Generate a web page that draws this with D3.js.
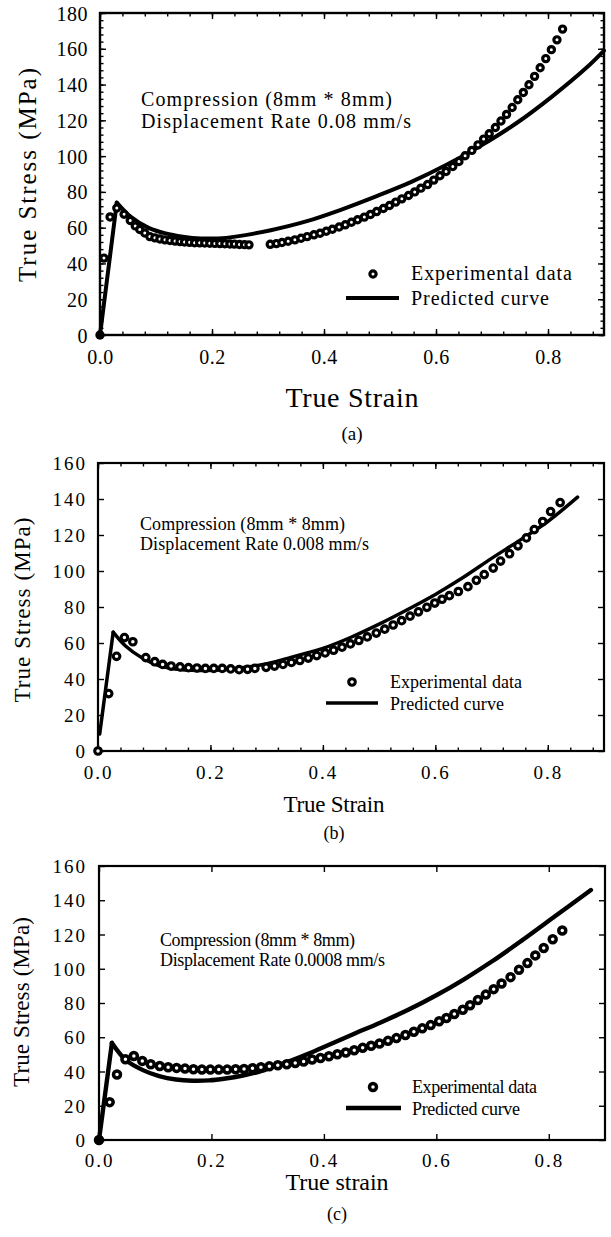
<!DOCTYPE html>
<html>
<head>
<meta charset="utf-8">
<script src="https://cdn.jsdelivr.net/npm/d3@7"></script>
<style>
body { margin: 0; background: #fff; }
svg { display: block; font-family: "Liberation Serif", "Times New Roman", serif; }
</style>
</head>
<body>
<div class="container"></div>
<script>
const WIDTH = 611;
const HEIGHT = 1237;

// (a) displacement rate 0.08 mm/s
var expStrainA = [0, 0.007, 0.018, 0.030, 0.043, 0.054, 0.063, 0.071, 0.080, 0.089, 0.098, 0.107, 0.116, 0.125, 0.134, 0.143, 0.151, 0.160, 0.169, 0.178, 0.187, 0.196, 0.205, 0.214, 0.223, 0.232, 0.240, 0.249, 0.258, 0.266,
    0.304, 0.315, 0.325, 0.336, 0.348, 0.359, 0.370, 0.382, 0.393, 0.404, 0.415, 0.427, 0.438, 0.449, 0.460, 0.472, 0.483, 0.494, 0.506, 0.517, 0.528, 0.539, 0.551, 0.562, 0.573, 0.585, 0.596, 0.607, 0.618, 0.630,
    0.641, 0.652, 0.664, 0.675, 0.685, 0.695, 0.706, 0.716, 0.726, 0.736, 0.746, 0.756, 0.766, 0.776, 0.786, 0.796, 0.806, 0.816, 0.826];
var expStressA = [0, 43, 66, 71, 67.5, 64, 61, 59, 57, 55, 54.3, 53.7, 53.2, 52.8, 52.5, 52.2, 52, 51.8, 51.6, 51.5, 51.4, 51.3, 51.2, 51.1, 51, 50.9, 50.8, 50.6, 50.5, 50.4,
    50.7, 51.1, 51.7, 52.4, 53.2, 54.1, 55, 56, 56.9, 58, 59.1, 60.4, 61.6, 63, 64.4, 65.9, 67.4, 69, 70.7, 72.4, 74.3, 76.1, 78, 80, 82.1, 84.1, 86.6, 89, 91.4, 94.2,
    97, 100.2, 103.2, 106.3, 109.5, 112.5, 116, 119.6, 123.3, 127.2, 131.5, 135.6, 139.9, 144.6, 149.4, 154.5, 159.5, 165, 171];
var predStrainA = [0, 0.030, 0.055, 0.086, 0.117, 0.148, 0.180, 0.211, 0.242, 0.305, 0.368, 0.430, 0.493, 0.556, 0.618, 0.681, 0.744, 0.806, 0.869, 0.9];
var predStressA = [0, 74, 66, 60, 56.8, 55, 54, 54, 55, 58.6, 63.5, 70, 77.5, 85.6, 95, 106, 118.5, 133, 149.5, 159];

// (b) displacement rate 0.008 mm/s
var expStrainB = [0, 0.019, 0.033, 0.047, 0.062, 0.085, 0.101, 0.115, 0.130, 0.146, 0.161, 0.176, 0.191, 0.206, 0.221, 0.236, 0.251, 0.266, 0.279, 0.299,
    0.314, 0.329, 0.344, 0.359, 0.374, 0.389, 0.404, 0.419, 0.434, 0.449, 0.464, 0.479, 0.495, 0.510, 0.525, 0.540, 0.555, 0.570, 0.585, 0.599,
    0.612, 0.625, 0.641, 0.658, 0.673, 0.687, 0.703, 0.716, 0.732, 0.747, 0.762, 0.776, 0.791, 0.805, 0.822];
var expStressB = [0, 31.9, 52.6, 63, 60.7, 51.9, 49.6, 48.1, 47.2, 46.7, 46.3, 46.1, 45.9, 45.9, 45.9, 45.6, 45.2, 45.4, 45.9, 46.5,
    47.2, 48.1, 49.2, 50.3, 51.6, 53, 54.5, 56, 57.7, 59.5, 61.4, 63.4, 65.5, 67.7, 70, 72.4, 74.9, 77.3, 79.8, 82.2,
    84.3, 86.3, 88.6, 91.3, 94.8, 98, 101.6, 105.5, 109.6, 114, 118.4, 123, 127.5, 133, 138];
var predStrainB = [0.003, 0.027, 0.049, 0.078, 0.108, 0.137, 0.166, 0.196, 0.225, 0.255, 0.284, 0.314, 0.343, 0.372, 0.40, 0.45, 0.50, 0.55, 0.60, 0.65, 0.70, 0.75, 0.80, 0.853];
var predStressB = [9.5, 66, 58.3, 51.8, 47.5, 45.6, 44.9, 44.7, 45.2, 46.2, 47.5, 49.5, 52, 54.5, 57, 63.2, 70.5, 78.5, 87, 96.5, 107, 117, 127.5, 141];

// (c) displacement rate 0.0008 mm/s
var expStrainC = [0, 0.019, 0.032, 0.047, 0.062, 0.077, 0.092, 0.108, 0.123, 0.138, 0.153, 0.168, 0.183, 0.198, 0.213, 0.228, 0.243, 0.258, 0.273, 0.288,
    0.303, 0.318, 0.334, 0.349, 0.364, 0.379, 0.394, 0.409, 0.424, 0.439, 0.454, 0.469, 0.484, 0.499, 0.514, 0.529, 0.545, 0.560, 0.575, 0.590,
    0.605, 0.618, 0.632, 0.647, 0.660, 0.674, 0.688, 0.702, 0.716, 0.732, 0.747, 0.762, 0.776, 0.791, 0.807, 0.824];
var expStressC = [0, 22.1, 38.2, 47.2, 49.1, 46.2, 44.2, 43.2, 42.5, 42.1, 41.7, 41.3, 41.1, 41.1, 41.1, 41.1, 41.3, 41.5, 41.9, 42.5,
    43, 43.6, 44.2, 45, 45.8, 47, 47.9, 48.9, 50.1, 51.1, 52.4, 53.8, 55, 56.4, 57.9, 59.5, 61.3, 63.2, 65.2, 67.1,
    69.3, 71.2, 73.6, 76.1, 78.7, 81.8, 84.9, 88.1, 91.4, 95.1, 99.4, 103.3, 107.8, 112.1, 117.2, 122.3];
var predStrainC = [0, 0.023, 0.048, 0.078, 0.107, 0.137, 0.166, 0.196, 0.225, 0.254, 0.284, 0.313, 0.343, 0.372, 0.40, 0.45, 0.5, 0.55, 0.6, 0.65, 0.7, 0.75, 0.8, 0.875];
var predStressC = [0, 56.7, 46.6, 40.8, 37.3, 35.3, 34.6, 34.8, 35.9, 37.5, 39.8, 43, 46.5, 50.3, 54.3, 61.5, 68.5, 76, 84.5, 94, 104.5, 116, 128, 146];

var xTicks = [0, 0.2, 0.4, 0.6, 0.8];
var xTickLabels = ["0.0", "0.2", "0.4", "0.6", "0.8"];
var yTicksA = [0, 20, 40, 60, 80, 100, 120, 140, 160, 180];
var yTicksBC = [0, 20, 40, 60, 80, 100, 120, 140, 160];

var notesA = ["Compression (8mm * 8mm)", "Displacement Rate 0.08 mm/s"];
var notesB = ["Compression (8mm * 8mm)", "Displacement Rate 0.008 mm/s"];
var notesC = ["Compression (8mm * 8mm)", "Displacement Rate 0.0008 mm/s"];
var legendLabels = ["Experimental data", "Predicted curve"];
var yTitle = "True Stress (MPa)";
var xTitles = ["True Strain", "True Strain", "True strain"];
var panelTags = ["(a)", "(b)", "(c)"];

// layout only
var panels = [
    {
        exp: [expStrainA, expStressA], pred: [predStrainA, predStressA], peak: 1,
        yMax: 180, yTicks: yTicksA, notes: notesA, xTitle: xTitles[0], tag: panelTags[0],
        left: 100, right: 604, top: 13, bottom: 335, border: 2.4,
        xMinor: 0.04, yMinor: 4, tickFont: 20, tickLs: 0.5, yLabRight: 88, xLabBase: 364,
        yTitleX: 27, yTitleY: 175, yTitleSize: 25, yTitleLen: 214,
        xTitleX: 352, xTitleBase: 407, xTitleSize: 28, xTitleLen: 133,
        tagBase: 440, tagSize: 19,
        noteX: 141, noteBase: [106, 128], noteSize: 20, noteLen: [251, 270],
        legMarkX: 373, legMarkY: 274, legLine: [346, 399], legLineY: 298, legTextX: 411,
        legBase: [280, 305], legSize: 20, legLen: [161, 138],
        r: 3.1, mStroke: 3.2, lineW: 4, originFilled: true
    },
    {
        exp: [expStrainB, expStressB], pred: [predStrainB, predStressB], peak: 1,
        yMax: 160, yTicks: yTicksBC, notes: notesB, xTitle: xTitles[1], tag: panelTags[1],
        left: 98, right: 604, top: 463, bottom: 751, border: 2.2,
        xMinor: 0.04, yMinor: 0, tickFont: 19, tickLs: 2, yLabRight: 87, xLabBase: 779,
        yTitleX: 22, yTitleY: 610, yTitleSize: 23, yTitleLen: 185,
        xTitleX: 334, xTitleBase: 812, xTitleSize: 23, xTitleLen: 101,
        tagBase: 839, tagSize: 18,
        noteX: 140, noteBase: [530, 550], noteSize: 18, noteLen: [205, 229],
        legMarkX: 352, legMarkY: 682, legLine: [326, 378], legLineY: 703, legTextX: 390,
        legBase: [688, 710], legSize: 18, legLen: [132, 114],
        r: 3.3, mStroke: 3.1, lineW: 3.5, originFilled: false
    },
    {
        exp: [expStrainC, expStressC], pred: [predStrainC, predStressC], peak: 1,
        yMax: 160, yTicks: yTicksBC, notes: notesC, xTitle: xTitles[2], tag: panelTags[2],
        left: 99, right: 605, top: 866, bottom: 1140, border: 2.2,
        xMinor: 0, yMinor: 0, tickFont: 19, tickLs: 2, yLabRight: 87, xLabBase: 1167,
        yTitleX: 21, yTitleY: 1002, yTitleSize: 23, yTitleLen: 170,
        xTitleX: 337, xTitleBase: 1190, xTitleSize: 24, xTitleLen: 103,
        tagBase: 1220, tagSize: 18,
        noteX: 160, noteBase: [946, 966], noteSize: 18, noteLen: [195, 225],
        legMarkX: 373, legMarkY: 1087, legLine: [346, 401], legLineY: 1108, legTextX: 412,
        legBase: [1093, 1115], legSize: 18, legLen: [125, 108],
        r: 3.5, mStroke: 3.5, lineW: 4.4, originFilled: true
    }
];

var translate = function(x, y) {
    return `translate(${x},${y})`;
};

var styleAxis = function(sel, p) {
    sel.attr('font-family', null).attr('font-size', null);
    sel.select('.domain').remove();
    sel.selectAll('line').attr('stroke', '#000').attr('stroke-width', 1.4);
    sel.selectAll('text')
        .attr('fill', '#000')
        .style('font-size', p.tickFont + 'px')
        .style('letter-spacing', p.tickLs + 'px');
};

var drawPanel = function(svg, p) {
    let x = d3.scaleLinear().domain([0, 0.9]).range([p.left, p.right]);
    let y = d3.scaleLinear().domain([0, p.yMax]).range([p.bottom, p.top]);
    let g = svg.append('g');

    // minor ticks
    if (p.xMinor) {
        let mx = d3.range(0, 0.9001, p.xMinor);
        g.append('g').attr('transform', translate(0, p.bottom))
            .call(d3.axisBottom(x).tickValues(mx).tickSize(-3.5).tickFormat(''))
            .call(s => styleAxis(s, p));
        g.append('g').attr('transform', translate(0, p.top))
            .call(d3.axisTop(x).tickValues(mx).tickSize(-3.5).tickFormat(''))
            .call(s => styleAxis(s, p));
    }
    if (p.yMinor) {
        let my = d3.range(0, p.yMax + 0.01, p.yMinor);
        g.append('g').attr('transform', translate(p.left, 0))
            .call(d3.axisLeft(y).tickValues(my).tickSize(-3.5).tickFormat(''))
            .call(s => styleAxis(s, p));
        g.append('g').attr('transform', translate(p.right, 0))
            .call(d3.axisRight(y).tickValues(my).tickSize(-3.5).tickFormat(''))
            .call(s => styleAxis(s, p));
    }

    // major ticks + labels
    g.append('g').attr('transform', translate(0, p.bottom))
        .call(d3.axisBottom(x).tickValues(xTicks).tickSize(-6).tickFormat((d, i) => xTickLabels[i]))
        .call(s => styleAxis(s, p))
        .selectAll('text').attr('y', p.xLabBase - p.bottom).attr('dy', null);
    g.append('g').attr('transform', translate(0, p.top))
        .call(d3.axisTop(x).tickValues(xTicks).tickSize(-6).tickFormat(''))
        .call(s => styleAxis(s, p));
    g.append('g').attr('transform', translate(p.left, 0))
        .call(d3.axisLeft(y).tickValues(p.yTicks).tickSize(-6))
        .call(s => styleAxis(s, p))
        .selectAll('text').attr('x', p.yLabRight - p.left).attr('dy', '0.35em');
    g.append('g').attr('transform', translate(p.right, 0))
        .call(d3.axisRight(y).tickValues(p.yTicks).tickSize(-6).tickFormat(''))
        .call(s => styleAxis(s, p));

    g.append('rect')
        .attr('x', p.left).attr('y', p.top)
        .attr('width', p.right - p.left).attr('height', p.bottom - p.top)
        .attr('fill', 'none').attr('stroke', '#000').attr('stroke-width', p.border);

    // predicted curve: straight elastic rise, smooth after the peak
    let pred = p.pred[0].map((d, i) => [d, p.pred[1][i]]);
    let rise = d3.line().x(d => x(d[0])).y(d => y(d[1]));
    let soft = d3.line().x(d => x(d[0])).y(d => y(d[1])).curve(d3.curveCatmullRom.alpha(0.5));
    g.append('path').attr('d', rise(pred.slice(0, p.peak + 1)))
        .attr('fill', 'none').attr('stroke', '#000').attr('stroke-width', p.lineW)
        .attr('stroke-linejoin', 'round').attr('stroke-linecap', 'round');
    g.append('path').attr('d', soft(pred.slice(p.peak)))
        .attr('fill', 'none').attr('stroke', '#000').attr('stroke-width', p.lineW)
        .attr('stroke-linejoin', 'round').attr('stroke-linecap', 'round');

    // experimental points
    let exp = p.exp[0].map((d, i) => [d, p.exp[1][i]]);
    g.append('g').selectAll('circle').data(exp).join('circle')
        .attr('cx', d => x(d[0])).attr('cy', d => y(d[1]))
        .attr('r', (d, i) => (i === 0 && p.originFilled) ? p.r + p.mStroke / 2 : p.r)
        .attr('fill', (d, i) => (i === 0 && p.originFilled) ? '#000' : '#fff')
        .attr('stroke', '#000').attr('stroke-width', (d, i) => (i === 0 && p.originFilled) ? 0 : p.mStroke);

    // note text
    p.notes.forEach((t, i) => {
        g.append('text').attr('x', p.noteX).attr('y', p.noteBase[i])
            .attr('font-size', p.noteSize).attr('textLength', p.noteLen[i])
            .text(t);
    });

    // legend
    g.append('circle').attr('cx', p.legMarkX).attr('cy', p.legMarkY).attr('r', p.r)
        .attr('fill', '#fff').attr('stroke', '#000').attr('stroke-width', p.mStroke);
    g.append('line').attr('x1', p.legLine[0]).attr('x2', p.legLine[1])
        .attr('y1', p.legLineY).attr('y2', p.legLineY)
        .attr('stroke', '#000').attr('stroke-width', p.lineW);
    legendLabels.forEach((t, i) => {
        g.append('text').attr('x', p.legTextX).attr('y', p.legBase[i])
            .attr('font-size', p.legSize).attr('textLength', p.legLen[i])
            .text(t);
    });

    // titles
    g.append('text')
        .attr('transform', translate(p.yTitleX, p.yTitleY) + ' rotate(-90)')
        .attr('text-anchor', 'middle').attr('dy', '0.35em')
        .attr('font-size', p.yTitleSize).attr('textLength', p.yTitleLen)
        .text(yTitle);
    g.append('text').attr('x', p.xTitleX).attr('y', p.xTitleBase)
        .attr('text-anchor', 'middle')
        .attr('font-size', p.xTitleSize).attr('textLength', p.xTitleLen)
        .text(p.xTitle);
    g.append('text').attr('x', p.xTitleX).attr('y', p.tagBase)
        .attr('text-anchor', 'middle').attr('font-size', p.tagSize)
        .text(p.tag);
};

var fillLayout = function() {
    var svg = d3.select('.container').append('svg')
        .attr('width', WIDTH)
        .attr('height', HEIGHT);
    panels.forEach(p => drawPanel(svg, p));
};
window.onload = fillLayout;
</script>
</body>
</html>
